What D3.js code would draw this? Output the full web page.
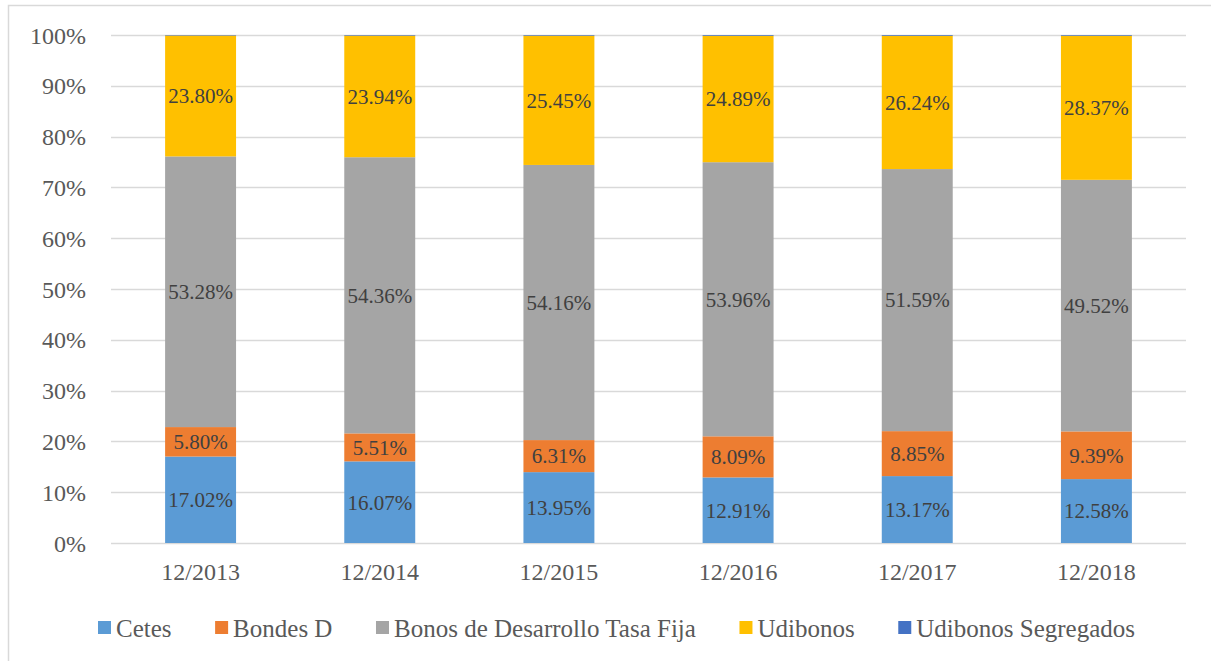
<!DOCTYPE html>
<html>
<head>
<meta charset="utf-8">
<script src="https://cdn.jsdelivr.net/npm/d3@7"></script>
<style>
  html, body { margin: 0; padding: 0; background: #fff; }
  svg { display: block; }
  svg text { font-family: "Liberation Serif", Tinos, "Times New Roman", Times, "DejaVu Serif", serif !important; }
</style>
</head>
<body>
<svg id="chart" width="1211" height="661"></svg>
<script>
// Composition of government securities holdings, by year-end
const periods = ["12/2013", "12/2014", "12/2015", "12/2016", "12/2017", "12/2018"];
const seriesNames = ["Cetes", "Bondes D", "Bonos de Desarrollo Tasa Fija", "Udibonos", "Udibonos Segregados"];
const cetes      = [17.02, 16.07, 13.95, 12.91, 13.17, 12.58];
const bondesD    = [5.80, 5.51, 6.31, 8.09, 8.85, 9.39];
const bonosFija  = [53.28, 54.36, 54.16, 53.96, 51.59, 49.52];
const udibonos   = [23.80, 23.94, 25.45, 24.89, 26.24, 28.37];
const udiSegreg  = [0.10, 0.12, 0.13, 0.15, 0.15, 0.14];
const yTicks = [0, 10, 20, 30, 40, 50, 60, 70, 80, 90, 100];
const colors = ["#5B9BD5", "#ED7D31", "#A5A5A5", "#FFC000", "#4472C4"];
const labelled = [true, true, true, true, false];

const FONT = '"Liberation Serif", Tinos, "Times New Roman", Times, "DejaVu Serif", serif';
const svg = d3.select("#chart");
const W = 1211, H = 661;
const margin = { left: 111, right: 25, top: 35, bottom: 118 };

// outer chart frame
svg.append("rect")
  .attr("x", 8.5).attr("y", 5.5)
  .attr("width", W + 10).attr("height", H + 10)
  .attr("fill", "none").attr("stroke", "#D9D9D9").attr("stroke-width", 1.5);

const x = d3.scaleBand().domain(periods)
  .range([margin.left, W - margin.right])
  .paddingInner(0.604).paddingOuter(0.302);
const y = d3.scaleLinear().domain([0, 100]).range([H - margin.bottom, margin.top]);

// gridlines
svg.append("g").selectAll("line").data(yTicks).join("line")
  .attr("x1", margin.left).attr("x2", W - margin.right)
  .attr("y1", d => Math.round(y(d)) + 0.5).attr("y2", d => Math.round(y(d)) + 0.5)
  .attr("stroke", "#D9D9D9").attr("stroke-width", 1.5);

// y axis labels
const yAxis = d3.axisLeft(y).tickValues(yTicks).tickFormat(d => d + "%").tickSize(0).tickPadding(0);
const gy = svg.append("g").attr("transform", `translate(86,0)`).call(yAxis)
  .attr("font-family", FONT);
gy.select(".domain").remove();
gy.selectAll("text").attr("font-size", 24).attr("fill", "#595959").attr("dy", "0.34em");

// x axis labels
const xAxis = d3.axisBottom(x).tickSize(0).tickPadding(0);
const gx = svg.append("g").attr("transform", `translate(0,${y(0) + 20})`).call(xAxis)
  .attr("font-family", FONT);
gx.select(".domain").remove();
gx.selectAll("text").attr("font-size", 24).attr("fill", "#595959").attr("dy", "0.71em");

// stacked bars
const seriesValues = [cetes, bondesD, bonosFija, udibonos, udiSegreg];
const rows = periods.map((p, i) => {
  const r = { period: p };
  seriesNames.forEach((s, k) => r[s] = seriesValues[k][i]);
  return r;
});
const stack = d3.stack().keys(seriesNames)(rows);

const layers = svg.append("g").selectAll("g").data(stack).join("g")
  .attr("fill", (d, k) => colors[k]);
layers.selectAll("rect").data(d => d).join("rect")
  .attr("x", d => x(d.data.period))
  .attr("width", x.bandwidth())
  .attr("y", d => y(d[1]))
  .attr("height", d => y(d[0]) - y(d[1]));

// value labels
stack.forEach((layer, k) => {
  if (!labelled[k]) return;
  svg.append("g").attr("font-family", FONT).selectAll("text").data(layer).join("text")
    .attr("x", d => x(d.data.period) + x.bandwidth() / 2)
    .attr("y", d => y((d[0] + d[1]) / 2))
    .attr("dy", "0.35em")
    .attr("text-anchor", "middle")
    .attr("font-size", 21)
    .attr("fill", "#404040")
    .text(d => (d[1] - d[0]).toFixed(2) + "%");
});

// legend: items spread evenly between a fixed start and end
const legend = svg.append("g").attr("transform", `translate(0,628)`).attr("font-family", FONT);
const legStart = 98, legEnd = 1135, swatch = 13, swGap = 5;
const items = seriesNames.map((s, k) => {
  const g = legend.append("g");
  g.append("rect").attr("y", -7).attr("width", swatch).attr("height", swatch).attr("fill", colors[k]);
  const t = g.append("text").attr("x", swatch + swGap).attr("y", 0).attr("dy", "0.35em")
    .attr("font-size", 25).attr("fill", "#595959").text(s);
  return { g, w: swatch + swGap + t.node().getComputedTextLength() };
});
const used = d3.sum(items, d => d.w);
const gap = (legEnd - legStart - used) / (items.length - 1);
let lx = legStart;
items.forEach(it => { it.g.attr("transform", `translate(${lx},0)`); lx += it.w + gap; });
</script>
</body>
</html>
